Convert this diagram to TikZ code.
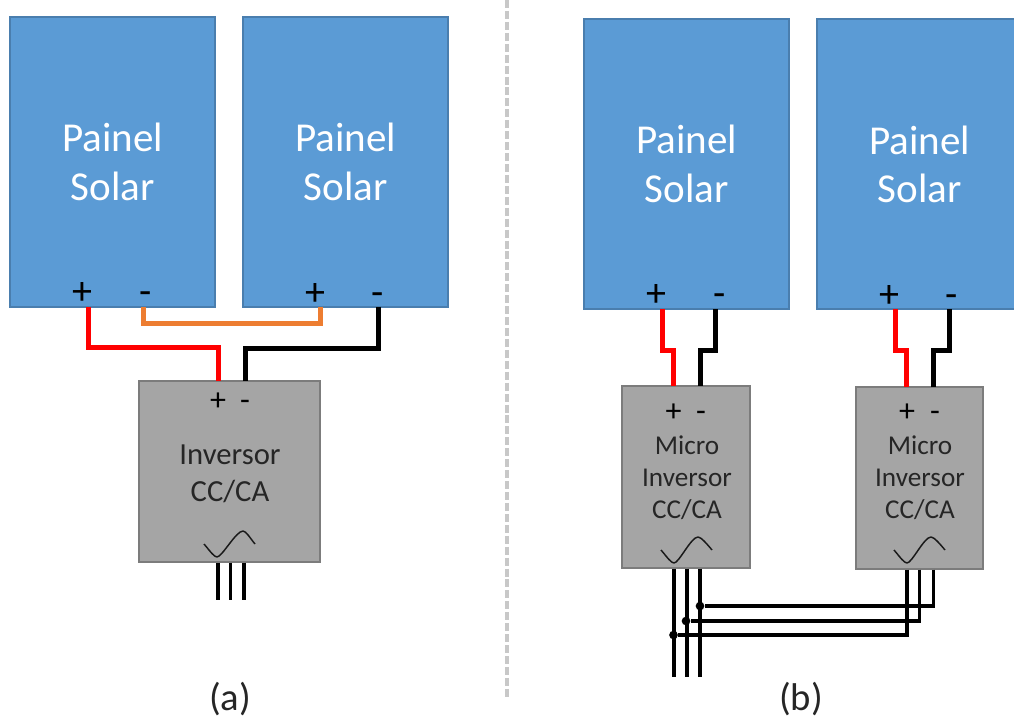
\documentclass[tikz,border=0pt]{standalone}
\usepackage{fontspec}
\setmainfont{Carlito}
\definecolor{panelblue}{HTML}{5B9BD5}
\definecolor{paneledge}{HTML}{4A7EAE}
\definecolor{boxgray}{HTML}{A5A5A5}
\definecolor{boxedge}{HTML}{7C7C7C}
\definecolor{wireorange}{HTML}{ED7D31}
\definecolor{wirered}{HTML}{FF0000}
\definecolor{divider}{HTML}{C8C8C8}
\tikzset{
  panel/.style={draw=paneledge,fill=panelblue,line width=1.5pt,minimum width=153.75pt,minimum height=217.5pt,inner sep=0pt,outer sep=0pt,text=white,align=center,font=\fontsize{30.8}{36.5}\selectfont},
  bigbox/.style={draw=boxedge,fill=boxgray,line width=1.5pt,minimum width=135.75pt,minimum height=135.75pt,inner sep=0pt,outer sep=0pt},
  microbox/.style={draw=boxedge,fill=boxgray,line width=1.5pt,minimum width=95.5pt,minimum height=136.5pt,inner sep=0pt,outer sep=0pt},
  polbig/.style={inner sep=0pt,anchor=base,text=black,font=\fontsize{30}{36}\selectfont},
  polsmall/.style={inner sep=0pt,anchor=base,text=black,font=\fontsize{24}{28}\selectfont},
  invbig/.style={inner sep=0pt,align=center,text=black!85,font=\fontsize{23}{27.75}\selectfont},
  invsmall/.style={inner sep=0pt,align=center,text=black!85,font=\fontsize{20.4}{24}\selectfont},
  caption/.style={inner sep=0pt,text=black!85,font=\fontsize{29}{34}\selectfont},
  dcwire/.style={line width=3.75pt,line join=miter},
  acwire/.style={line width=2.45pt,black,line join=miter},
  sinewave/.style={line width=1.1pt,black!90,line join=round},
  joint/.style={circle,fill=black,inner sep=0pt,minimum size=6.5pt}
}
\begin{document}
\begin{tikzpicture}[x=0.75pt,y=-0.75pt]
\useasboundingbox (0,0) rectangle (1014,720);
% divider
\draw[divider,line width=2.4pt,dash pattern=on 6pt off 2.2pt] (507,0) coordinate (divtop) -- (507,697) coordinate (divbot);

% panels
\node[panel] (p1) at (112.5,162) {Painel\\Solar};
\node[panel] (p2) at (345.5,162) {Painel\\Solar};
\node[panel] (p3) at (686.5,164) {Painel\\Solar};
\node[panel] (p4) at (919.5,164.5) {Painel\\Solar};

% polarity on panels
\node[polbig] at (82,304.5) {+};
\node[polbig] at (146,304.5) {-};
\node[polbig] at (315,305.5) {+};
\node[polbig] at (378,305.5) {-};
\node[polbig] at (656,306.5) {+};
\node[polbig] at (720,306.5) {-};
\node[polbig] at (889,307.5) {+};
\node[polbig] at (952,307.5) {-};

% inverter boxes
\node[bigbox] (inv) at (229.5,471.5) {};
\node[microbox] (m1) at (686,477) {};
\node[microbox] (m2) at (919.5,478) {};

% labels in boxes
\node[polsmall] at (218,410.5) {+};
\node[polsmall] at (245,410.5) {-};
\node[invbig] at (230,473.5) {Inversor\\CC/CA};
\node[polsmall] at (673.5,421) {+};
\node[polsmall] at (701,421) {-};
\node[invsmall] at (687,478) {Micro\\Inversor\\CC/CA};
\node[polsmall] at (907,421) {+};
\node[polsmall] at (935,421) {-};
\node[invsmall] at (920,478) {Micro\\Inversor\\CC/CA};

% sine symbols
\draw[sinewave] (204,544) .. controls (210,551) and (214,557) .. (217,557) .. controls (222,557) and (236,531) .. (243,531) .. controls (246,531) and (250,538) .. (255,544);
\draw[sinewave] (661,550) .. controls (667,557) and (671,563) .. (674,563) .. controls (679,563) and (691,537) .. (698,537) .. controls (701,537) and (707,544) .. (712,550);
\draw[sinewave] (894,550) .. controls (900,557) and (904,563) .. (907,563) .. controls (912,563) and (924,537) .. (931,537) .. controls (934,537) and (940,544) .. (945,550);

% wires of (a)
\coordinate (a1) at (88.5,307);
\coordinate (a2) at (218,381);
\coordinate (a3) at (143,307);
\coordinate (a4) at (320,307);
\coordinate (a5) at (378,307);
\coordinate (a6) at (245,381);
\draw[dcwire,wirered] (a1) -- (a1 |- 0,348) -- (a2 |- 0,348) -- (a2);
\draw[dcwire,wireorange] (a3) -- (a3 |- 0,324) -- (a4 |- 0,324) -- (a4);
\draw[dcwire,black] (a5) -- (a5 |- 0,349) -- (a6 |- 0,349) -- (a6);

% wires of (b)
\coordinate (b1) at (662,309);
\coordinate (b2) at (673.5,386);
\coordinate (b3) at (715.5,309);
\coordinate (b4) at (700,386);
\coordinate (b5) at (895,309);
\coordinate (b6) at (906.5,387);
\coordinate (b7) at (949,309);
\coordinate (b8) at (933,387);
\draw[dcwire,wirered] (b1) -- (b1 |- 0,351) -- (b2 |- 0,351) -- (b2);
\draw[dcwire,black] (b3) -- (b3 |- 0,351) -- (b4 |- 0,351) -- (b4);
\draw[dcwire,wirered] (b5) -- (b5 |- 0,351) -- (b6 |- 0,351) -- (b6);
\draw[dcwire,black] (b7) -- (b7 |- 0,351) -- (b8 |- 0,351) -- (b8);

% AC output (a)
\foreach \xx in {218,230.5,244}{
  \draw[acwire] (\xx,562.5) -- (\xx,600);
}

% AC output (b)
\foreach \xx in {674,687,700}{
  \draw[acwire] (\xx,568.5) -- (\xx,677);
}
\node[joint] (j1) at (700,606) {};
\node[joint] (j2) at (686,621) {};
\node[joint] (j3) at (673.5,635) {};
\coordinate (t1) at (933.5,569.5);
\coordinate (t2) at (919.5,569.5);
\coordinate (t3) at (907,569.5);
\draw[acwire] (t1) |- (j1);
\draw[acwire] (t2) |- (j2);
\draw[acwire] (t3) |- (j3);

% captions
\node[caption] (capa) at (230,699) {(a)};
\node[caption] (capb) at (801,699) {(b)};
\end{tikzpicture}
\end{document}
